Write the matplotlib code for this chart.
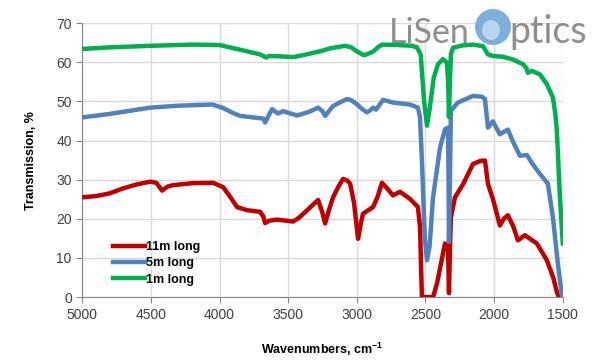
import matplotlib.pyplot as plt
from matplotlib.patches import Ellipse

plt.rcParams['font.family'] = ['Liberation Sans', 'DejaVu Sans']
plt.rcParams['mathtext.fontset'] = 'custom'
plt.rcParams['mathtext.rm'] = 'Liberation Sans'
plt.rcParams['mathtext.bf'] = 'Liberation Sans:bold'

# 1m long
wn_green = [5000, 4800, 4500, 4200, 4000, 3900, 3800, 3705, 3660, 3640, 3550, 3464, 3380, 3268,
            3200, 3086, 3040, 3000, 2950, 2930, 2882, 2840, 2817, 2700, 2600, 2562, 2535, 2510,
            2489, 2470, 2440, 2409, 2373, 2344, 2335, 2329, 2322, 2315, 2300, 2230, 2154, 2081,
            2045, 2009, 1936, 1863, 1790, 1765, 1754, 1725, 1667, 1616, 1572, 1555, 1543, 1521, 1500]
t_green = [63.4, 63.8, 64.2, 64.5, 64.4, 63.6, 62.8, 62.0, 61.2, 61.6, 61.5, 61.3, 61.9, 62.8,
           63.5, 64.2, 63.8, 62.8, 61.8, 62.0, 62.7, 64.0, 64.5, 64.4, 64.2, 63.8, 62.0, 50.0,
           43.8, 48.0, 56.0, 59.5, 60.8, 59.9, 55.0, 46.0, 55.0, 62.0, 63.7, 64.3, 64.5, 64.1,
           62.0, 61.6, 61.4, 60.7, 59.5, 58.5, 57.3, 57.8, 56.9, 54.4, 51.0, 47.0, 42.5, 25.5, 13.7]

# 5m long
wn_blue = [5000, 4800, 4505, 4300, 4050, 3974, 3900, 3850, 3705, 3680, 3668, 3640, 3617, 3574,
           3537, 3435, 3350, 3282, 3250, 3231, 3173, 3120, 3071, 3040, 3000, 2960, 2926, 2900,
           2882, 2860, 2809, 2737, 2686, 2613, 2555, 2540, 2526, 2505, 2489, 2470, 2445, 2394,
           2358, 2336, 2332, 2329, 2322, 2315, 2264, 2154, 2090, 2067, 2045, 2009, 1980, 1958,
           1900, 1860, 1812, 1761, 1720, 1667, 1609, 1572, 1536, 1507, 1500]
t_blue = [45.9, 46.8, 48.4, 48.9, 49.2, 48.3, 47.0, 46.3, 45.7, 45.6, 44.6, 46.5, 48.0, 46.9,
          47.5, 46.4, 47.3, 48.4, 47.5, 46.3, 48.8, 49.8, 50.6, 50.3, 49.3, 48.0, 47.2, 47.8,
          48.4, 47.9, 50.4, 49.7, 49.5, 49.2, 48.4, 46.0, 35.0, 15.0, 9.4, 13.0, 25.5, 38.2,
          42.9, 43.3, 30.0, 14.1, 30.0, 47.6, 49.7, 51.4, 51.2, 50.6, 43.3, 44.9, 43.0, 41.6,
          42.8, 39.5, 36.1, 36.3, 34.0, 31.5, 29.0, 20.4, 8.6, 0.5, 0.0]

# 11m long
wn_red = [5000, 4900, 4800, 4700, 4600, 4505, 4460, 4418, 4380, 4338, 4200, 4047, 3974, 3930,
          3872, 3799, 3705, 3680, 3668, 3640, 3581, 3464, 3420, 3362, 3282, 3250, 3231, 3205,
          3173, 3130, 3100, 3070, 3049, 3020, 2991, 2970, 2955, 2882, 2850, 2817, 2780, 2737,
          2686, 2613, 2555, 2540, 2526, 2445, 2416, 2358, 2336, 2329, 2322, 2315, 2285, 2227,
          2154, 2100, 2067, 2045, 2009, 1958, 1930, 1900, 1860, 1827, 1776, 1689, 1616, 1570,
          1543, 1529]
t_red = [25.5, 25.8, 26.5, 27.8, 28.8, 29.5, 29.2, 27.2, 28.2, 28.6, 29.1, 29.2, 28.1, 26.0,
         23.0, 22.2, 21.8, 20.5, 18.9, 19.5, 19.8, 19.3, 20.3, 22.2, 24.8, 21.5, 18.8, 22.0,
         25.5, 28.5, 30.2, 29.8, 29.0, 24.0, 14.9, 19.0, 21.3, 23.0, 25.5, 29.2, 27.8, 26.0,
         26.9, 25.1, 23.0, 18.0, 0.0, 0.0, 3.5, 13.7, 12.5, 1.0, 12.0, 20.4, 25.5, 28.8,
         34.0, 34.8, 34.9, 28.9, 25.1, 18.3, 20.0, 20.9, 18.0, 14.5, 15.8, 13.7, 9.4, 5.0,
         1.3, 0.0]

fig = plt.figure(figsize=(6, 3.61), dpi=100)
ax = fig.add_axes([0.137, 0.177, 0.801, 0.759])

lw = 3.2
ax.plot(wn_red, t_red, color='#C00000', lw=lw, label='11m long', zorder=3)
ax.plot(wn_blue, t_blue, color='#4F81BD', lw=lw, label='5m long', zorder=3)
ax.plot(wn_green, t_green, color='#00B050', lw=lw, label='1m long', zorder=3)

ax.set_xlim(5000, 1500)
ax.set_ylim(0, 70)
ax.set_xticks(range(5000, 1499, -500))
ax.set_yticks(range(0, 71, 10))
ax.grid(True, color='#D9D9D9', lw=1)
ax.set_axisbelow(True)
for s in ['top', 'right']:
    ax.spines[s].set_visible(False)
for s in ['left', 'bottom']:
    ax.spines[s].set_color('#868686')
ax.tick_params(colors='#868686', labelcolor='#404040', labelsize=10, length=4)

ax.set_xlabel(r'Wavenumbers, cm$^{\mathbf{-1}}$', fontsize=9, fontweight='bold', labelpad=14)
ax.set_ylabel('Transmission, %', fontsize=9, fontweight='bold', labelpad=14)

leg = ax.legend(loc='lower left', bbox_to_anchor=(0.04, 0.0), frameon=False,
                prop={'weight': 'bold', 'size': 9}, handlelength=2.6, handletextpad=0.1,
                labelspacing=0.35)

# logo
logo_font = dict(transform=fig.transFigure, color='#8E8E8E',
                 family=['Lato', 'DejaVu Sans'], zorder=1, clip_on=False)
ax.text(389 / 600, 1 - 43 / 361, 'LiSen', fontsize=24.5, **logo_font)
ax.add_patch(Ellipse((493 / 600, 1 - 27 / 361), 36 / 600, 36 / 361, transform=fig.transFigure,
                     facecolor='#7DAFDB', edgecolor='none', zorder=1, clip_on=False))
ax.add_patch(Ellipse((491 / 600, 1 - 30 / 361), 18 / 600, 20 / 361, transform=fig.transFigure,
                     facecolor='#B9D5EE', edgecolor='none', zorder=1, clip_on=False))
ax.text(509 / 600, 1 - 43 / 361, 'ptics', fontsize=27, **logo_font)

fig.savefig('out.png', dpi=100)
